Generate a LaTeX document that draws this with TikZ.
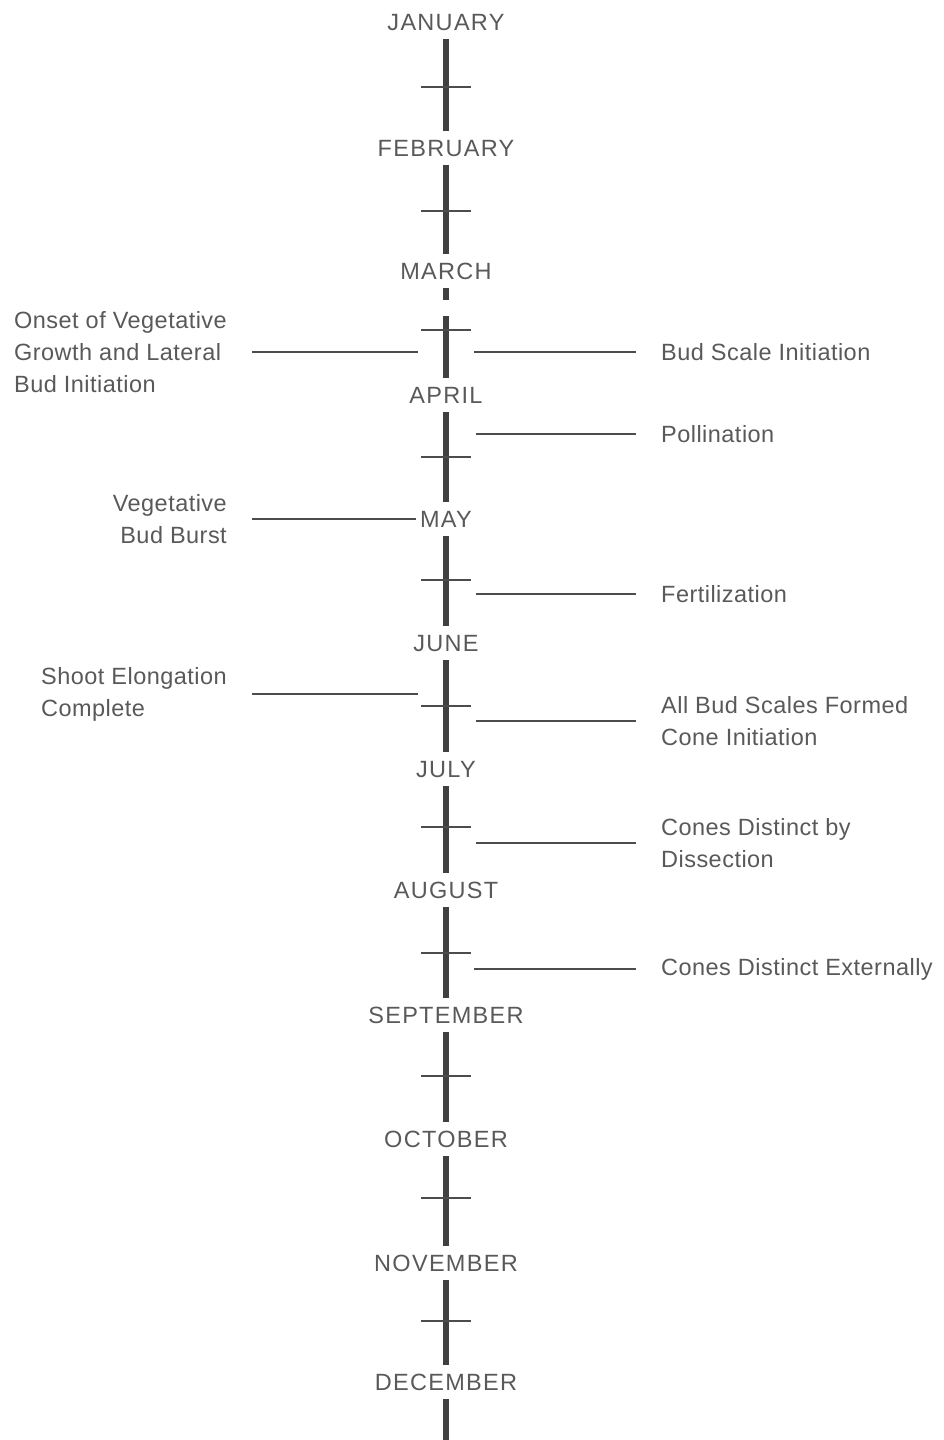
\documentclass[tikz,border=0pt]{standalone}
\usepackage{fontspec}
\setmainfont{Liberation Sans}
\usepackage{xcolor}

\begin{document}
\begin{tikzpicture}[
        x=1pt, y=-1pt,
        month/.style={inner sep=0pt, minimum height=34pt, text height=17pt, text depth=0pt,
                text=black!65, font=\fontsize{23.5}{32}\selectfont\addfontfeatures{LetterSpace=5.5}},
        event/.style={inner ysep=0pt, inner xsep=25pt, text=black!65,
                font=\fontsize{23.5}{32}\selectfont\addfontfeatures{LetterSpace=2}},
        bar/.style={draw=black!75, line width=6pt},
        tick/.style={draw=black!70, line width=1.5pt},
        link/.style={draw=black!70, line width=1.5pt}
    ]
    \useasboundingbox (0,0) rectangle (943,1440);

    \node[month] (jan) at (446,22) {JANUARY};
    \node[month] (feb) at (446,148) {FEBRUARY};
    \node[month] (mar) at (446,271) {MARCH};
    \node[month] (apr) at (446,395) {APRIL};
    \node[month] (may) at (446,519) {MAY};
    \node[month] (jun) at (446,643) {JUNE};
    \node[month] (jul) at (446,769) {JULY};
    \node[month] (aug) at (446,890) {AUGUST};
    \node[month] (sep) at (446,1015) {SEPTEMBER};
    \node[month] (oct) at (446,1139) {OCTOBER};
    \node[month] (nov) at (446,1263) {NOVEMBER};
    \node[month] (dec) at (446,1382) {DECEMBER};

    \draw[bar] (jan.south) -- (feb.north);
    \draw[bar] (feb.south) -- (mar.north);
    \draw[bar] (mar.south) -- ++(0,12);
    \draw[bar] (apr.north) -- ++(0,-62);
    \draw[bar] (apr.south) -- (may.north);
    \draw[bar] (may.south) -- (jun.north);
    \draw[bar] (jun.south) -- (jul.north);
    \draw[bar] (jul.south) -- (aug.north);
    \draw[bar] (aug.south) -- (sep.north);
    \draw[bar] (sep.south) -- (oct.north);
    \draw[bar] (oct.south) -- (nov.north);
    \draw[bar] (nov.south) -- (dec.north);
    \draw[bar] (dec.south) -- (446,1440);

    \draw[tick] (421,87) -- (471,87);
    \draw[tick] (421,211) -- (471,211);
    \draw[tick] (421,330) -- (471,330);
    \draw[tick] (421,457) -- (471,457);
    \draw[tick] (421,580) -- (471,580);
    \draw[tick] (421,706) -- (471,706);
    \draw[tick] (421,827) -- (471,827);
    \draw[tick] (421,953) -- (471,953);
    \draw[tick] (421,1076) -- (471,1076);
    \draw[tick] (421,1198) -- (471,1198);
    \draw[tick] (421,1321) -- (471,1321);

    \node[event, anchor=east, align=left] (onset) at (252,352) {Onset of Vegetative\\Growth and Lateral\\Bud Initiation};
    \node[event, anchor=east, align=right] (burst) at (252,519) {Vegetative\\Bud Burst};
    \node[event, anchor=east, align=left] (shoot) at (252,694) {Shoot Elongation\\Complete};
    \node[event, anchor=west, align=left] (budscale) at (636,352) {Bud Scale Initiation};
    \node[event, anchor=west, align=left] (pollen) at (636,434) {Pollination};
    \node[event, anchor=west, align=left] (fert) at (636,594) {Fertilization};
    \node[event, anchor=west, align=left] (formed) at (636,721) {All Bud Scales Formed\\Cone Initiation};
    \node[event, anchor=west, align=left] (dissect) at (636,843) {Cones Distinct by\\Dissection};
    \node[event, anchor=west, align=left] (extern) at (636,969) {Cones Distinct Externally};

    \coordinate (onset-ax) at (418,352);
    \coordinate (shoot-ax) at (418,694);
    \coordinate (budscale-ax) at (474,352);
    \coordinate (pollen-ax) at (476,434);
    \coordinate (fert-ax) at (476,594);
    \coordinate (formed-ax) at (476,721);
    \coordinate (dissect-ax) at (476,843);
    \coordinate (extern-ax) at (474,969);

    \draw[link] (onset.east) -- (onset-ax);
    \draw[link, shorten >=4pt] (burst.east) -- (may.west);
    \draw[link] (shoot.east) -- (shoot-ax);
    \draw[link] (budscale-ax) -- (budscale.west);
    \draw[link] (pollen-ax) -- (pollen.west);
    \draw[link] (fert-ax) -- (fert.west);
    \draw[link] (formed-ax) -- (formed.west);
    \draw[link] (dissect-ax) -- (dissect.west);
    \draw[link] (extern-ax) -- (extern.west);
\end{tikzpicture}
\end{document}
